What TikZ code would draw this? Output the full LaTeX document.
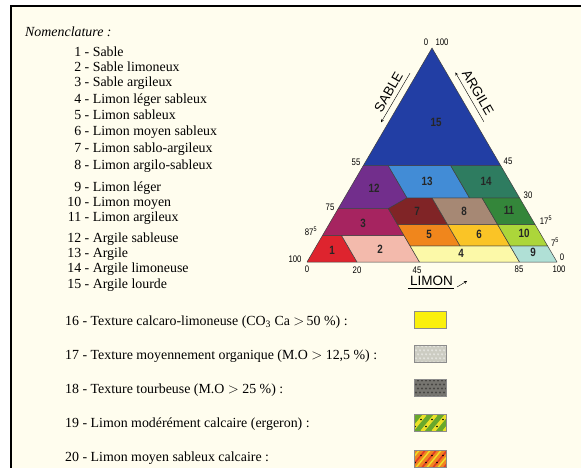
\documentclass[tikz,border=0pt]{standalone}
\usepackage{fontspec}
\setmainfont{Liberation Serif}
\newfontfamily\axisfont[FakeStretch=0.82]{Liberation Sans}
\newfontfamily\edgefont{Liberation Sans}
\usetikzlibrary{calc}

% Paper and soil texture colours, one per class of the triangle
\definecolor{paper}{RGB}{255,253,238}
\definecolor{sol1}{RGB}{222,36,46}
\definecolor{sol2}{RGB}{243,186,172}
\definecolor{sol3}{RGB}{166,36,96}
\definecolor{sol4}{RGB}{252,249,168}
\definecolor{sol5}{RGB}{240,134,28}
\definecolor{sol6}{RGB}{250,196,38}
\definecolor{sol7}{RGB}{128,36,38}
\definecolor{sol8}{RGB}{166,136,116}
\definecolor{sol9}{RGB}{176,224,214}
\definecolor{sol10}{RGB}{172,214,58}
\definecolor{sol11}{RGB}{52,134,58}
\definecolor{sol12}{RGB}{114,46,140}
\definecolor{sol13}{RGB}{66,140,214}
\definecolor{sol14}{RGB}{46,124,96}
\definecolor{sol15}{RGB}{34,62,164}
% Colours of the legend samples
\definecolor{calcaire}{RGB}{250,240,12}
\definecolor{organique}{RGB}{204,204,194}
\definecolor{tourbe}{RGB}{118,117,112}
\definecolor{ergeron}{RGB}{104,168,44}
\definecolor{jaune}{RGB}{236,224,40}
\definecolor{orangesol}{RGB}{242,132,32}
\definecolor{rouge}{RGB}{224,58,40}

\tikzset{
    % Small sharp arrows along the sides
    >=stealth,
%
    % A texture class of the triangle, filled with its colour
    region/.style={draw=black!75, line width=0.5pt, line join=round},
%
    % Class number printed inside a region
    region label/.style={font=\axisfont\bfseries\fontsize{12}{12}\selectfont,
        text=black!85, inner sep=0},
%
    % Graduations along the sides of the triangle
    tick label/.style={font=\axisfont\fontsize{9.5}{9.5}\selectfont, inner sep=0},
%
    % Names of the three fractions
    side label/.style={font=\edgefont\fontsize{13.5}{13.5}\selectfont, inner sep=0},
%
    % Lines of the nomenclature
    legend text/.style={font=\fontsize{13.9}{16}\selectfont,
        anchor=base west, inner sep=0},
%
    % Small sample shown after a legend line
    swatch/.style={draw=black!45, line width=0.5pt, inner sep=0,
        minimum width=32pt, minimum height=17pt}}

\begin{document}
\begin{tikzpicture}[x=1pt, y=-1pt]
\useasboundingbox (0,0) rectangle (581,468);

% Page and the frame round it
\fill[white] (0,0) rectangle (581,468);
\fill[paper] (11,6) rectangle (581,468);
\draw[line width=2.6pt] (11,468) -- (11,6.2) -- (581,6.2);

% Nomenclature of the fifteen classes
\node[legend text, font=\itshape\fontsize{13.9}{16}\selectfont]
    (nomenclature) at (25,36.5) {Nomenclature :};

\foreach \num/\txt/\y in {1/Sable/56.5, 2/Sable limoneux/71.5,
        3/Sable argileux/86.5, 4/Limon léger sableux/104,
        5/Limon sableux/120, 6/Limon moyen sableux/136,
        7/Limon sablo-argileux/153, 8/Limon argilo-sableux/170,
        9/Limon léger/191, 10/Limon moyen/206, 11/Limon argileux/221,
        12/Argile sableuse/242, 13/Argile/257, 14/Argile limoneuse/272,
        15/Argile lourde/288}
    \node[legend text] (item \num) at (81,\y) {\llap{\num}~- \txt};

% Texture classes, in (silt + clay, clay) coordinates
\begin{scope}[shift={(307,262)}, x={(2.5pt,0pt)}, y={(-1.25pt,2.14pt)}]
    \path[region, fill=sol1] (0,0) -- (20,0) -- (20,12.5) -- (12.5,12.5) -- cycle;
    \path[region, fill=sol2] (20,0) -- (45,0) -- (45,12.5) -- (20,12.5) -- cycle;
    \path[region, fill=sol3] (12.5,12.5) -- (45,12.5) -- (45,25) -- (25,25) -- cycle;
    \path[region, fill=sol4] (45,0) -- (85,0) -- (85,7.5) -- (45,7.5) -- cycle;
    \path[region, fill=sol9] (85,0) -- (100,0) -- (100,7.5) -- (85,7.5) -- cycle;
    \path[region, fill=sol5] (45,7.5) -- (65,7.5) -- (65,17.5) -- (45,17.5) -- cycle;
    \path[region, fill=sol6] (65,7.5) -- (85,7.5) -- (85,17.5) -- (65,17.5) -- cycle;
    \path[region, fill=sol10] (85,7.5) -- (100,7.5) -- (100,17.5) -- (85,17.5) -- cycle;
    \path[region, fill=sol7] (45,17.5) -- (65,17.5) -- (65,30) -- (55,30) -- (45,25) -- cycle;
    \path[region, fill=sol8] (65,17.5) -- (85,17.5) -- (85,30) -- (65,30) -- cycle;
    \path[region, fill=sol11] (85,17.5) -- (100,17.5) -- (100,30) -- (85,30) -- cycle;
    \path[region, fill=sol12] (25,25) -- (45,25) -- (55,30) -- (55,45) -- (45,45) -- cycle;
    \path[region, fill=sol13] (55,30) -- (80,30) -- (80,45) -- (55,45) -- cycle;
    \path[region, fill=sol14] (80,30) -- (100,30) -- (100,45) -- (80,45) -- cycle;
    \path[region, fill=sol15] (45,45) -- (100,45) -- (100,100) -- cycle;
\end{scope}

% Class numbers
\foreach \num/\x/\y in {1/332/250, 2/380/249, 3/363/223, 4/461/253, 5/429/234,
        6/479/234, 7/417/211, 8/464/211, 9/533/252, 10/524/233,
        11/509/210, 12/374/188, 13/427/181, 14/486/181, 15/436/122}
    \node[region label] (label \num) at (\x,\y) {\num};

% Graduations
\foreach \txt/\x/\y [count=\i] in {0/426/42, 100/442/42, 55/356/162,
        75/330/207, {87\textsuperscript{5}}/311/231, 100/295/259,
        0/307/269, 20/357/270, 45/417/270, 85/519/269, 100/559/269,
        45/508/161, 30/528/195, {17\textsuperscript{5}}/546/220,
        {7\textsuperscript{5}}/555/242, 0/562/257}
    \node[tick label] (tick \i) at (\x,\y) {\txt};

% Names of the fractions with their reading direction
\node[side label, rotate=60] (sable) at (388.5,92) {SABLE};
\node[side label, rotate=-60] (argile) at (478,92.5) {ARGILE};
\node[side label] (limon) at (431.5,280.5) {LIMON};

\coordinate (sable tail) at (410,73.2);
\coordinate (sable head) at (381.1,122.3);
\draw[->, thin] (sable tail) -- (sable head);

\coordinate (argile tail) at (483.9,121.8);
\coordinate (argile head) at (455.4,72.5);
\draw[->, thin] (argile tail) -- (argile head);

\draw[thin] ($(limon.south west)+(-2,2.5)$) -- ($(limon.south east)+(1,2.5)$);
\draw[->, thin] ($(limon.south east)+(4,1.5)$) -- ($(limon.south east)+(14,-4.5)$);

% Additional textures
\node[legend text] (item 16) at (65,325)
    {16 - Texture calcaro-limoneuse (CO\textsubscript{3} Ca $>$\,50 \%) :};
\node[legend text] (item 17) at (65,359)
    {17 - Texture moyennement organique (M.O $>$ 12,5 \%) :};
\node[legend text] (item 18) at (65,393)
    {18 - Texture tourbeuse (M.O $>$ 25 \%) :};
\node[legend text] (item 19) at (65,427.5)
    {19 - Limon modérément calcaire (ergeron) :};
\node[legend text] (item 20) at (65,461.5)
    {20 - Limon moyen sableux calcaire :};

\node[swatch, fill=calcaire] (swatch 16) at (430,319.5) {};

\node[swatch, fill=organique, path picture={
        \foreach \i in {0,...,8} \foreach \j in {0,...,4}
            \fill[organique!55!white]
                ($(path picture bounding box.north west)+({\i*4+mod(\j,2)*2},{\j*4+1})$)
                circle (1.2);
    }] (swatch 17) at (430,353.8) {};

\node[swatch, fill=tourbe, path picture={
        \foreach \i in {0,...,8} \foreach \j in {0,...,4}
            \fill[tourbe!60!black]
                ($(path picture bounding box.north west)+({\i*4+mod(\j,2)*2},{\j*4+1})$)
                circle (1.1);
    }] (swatch 18) at (430,388) {};

\node[swatch, fill=ergeron, path picture={
        \foreach \k in {-14,-3,8,19,30} {
            \draw[line width=3.5pt, jaune]
                ($(path picture bounding box.south west)+(\k,0)$) -- ++(14,-17);
            \fill[black] ($(path picture bounding box.south west)+(\k,0)+(4,-5)$) circle (0.8);
            \fill[black] ($(path picture bounding box.south west)+(\k,0)+(10,-12)$) circle (0.8);
        }
    }] (swatch 19) at (430,423) {};

\node[swatch, fill=orangesol, path picture={
        \foreach \k in {-14,-3,8,19,30} {
            \draw[line width=1.6pt, rouge]
                ($(path picture bounding box.south west)+(\k,0)$) -- ++(14,-17);
            \draw[line width=1.4pt, jaune]
                ($(path picture bounding box.south west)+(\k+5,0)$) -- ++(14,-17);
            \fill[black] ($(path picture bounding box.south west)+(\k,0)+(4,-5)$) circle (0.8);
            \fill[black] ($(path picture bounding box.south west)+(\k,0)+(10,-12)$) circle (0.8);
        }
    }] (swatch 20) at (430,459) {};

\end{tikzpicture}
\end{document}
